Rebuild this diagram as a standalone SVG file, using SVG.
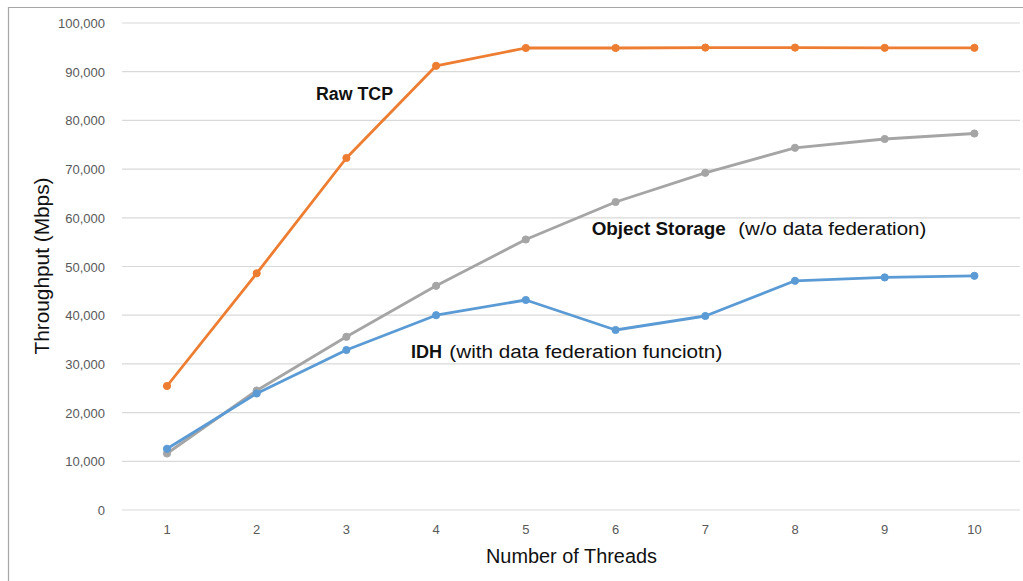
<svg xmlns="http://www.w3.org/2000/svg" width="1023" height="581" viewBox="0 0 1023 581">
  <style>
    .grid { stroke: #D9D9D9; stroke-width: 1.2; }
    .tick { font-family: "Liberation Sans", Arial, sans-serif; font-size: 13px; fill: #595959; }
    .ylab { text-anchor: end; }
    .xlab { text-anchor: middle; }
    .title { font-family: "Liberation Sans", Arial, sans-serif; font-size: 20px; fill: #111; }
    .note { font-family: "Liberation Sans", Arial, sans-serif; font-size: 18px; fill: #111; }
    .bold { font-weight: bold; }
    .series { fill: none; stroke-width: 2.8; stroke-linejoin: round; stroke-linecap: round; }
  </style>

  <rect x="0" y="0" width="1023" height="581" fill="#FFFFFF"/>
  <!-- chart frame -->
  <path d="M8.5 581 V7.5 H1023" fill="none" stroke="#A6A6A6" stroke-width="1.2"/>

  <!-- horizontal gridlines, 0 to 100,000 -->
  <g id="gridlines">
    <line class="grid" x1="122" y1="510" x2="1020" y2="510"/>
    <line class="grid" x1="122" y1="461.3" x2="1020" y2="461.3"/>
    <line class="grid" x1="122" y1="412.6" x2="1020" y2="412.6"/>
    <line class="grid" x1="122" y1="363.9" x2="1020" y2="363.9"/>
    <line class="grid" x1="122" y1="315.2" x2="1020" y2="315.2"/>
    <line class="grid" x1="122" y1="266.5" x2="1020" y2="266.5"/>
    <line class="grid" x1="122" y1="217.8" x2="1020" y2="217.8"/>
    <line class="grid" x1="122" y1="169.1" x2="1020" y2="169.1"/>
    <line class="grid" x1="122" y1="120.4" x2="1020" y2="120.4"/>
    <line class="grid" x1="122" y1="71.7" x2="1020" y2="71.7"/>
    <line class="grid" x1="122" y1="23" x2="1020" y2="23"/>
  </g>

  <!-- y-axis tick labels -->
  <g id="y-axis">
    <text class="tick ylab" x="105" y="515">0</text>
    <text class="tick ylab" x="105" y="466.3">10,000</text>
    <text class="tick ylab" x="105" y="417.6">20,000</text>
    <text class="tick ylab" x="105" y="368.9">30,000</text>
    <text class="tick ylab" x="105" y="320.2">40,000</text>
    <text class="tick ylab" x="105" y="271.5">50,000</text>
    <text class="tick ylab" x="105" y="222.8">60,000</text>
    <text class="tick ylab" x="105" y="174.1">70,000</text>
    <text class="tick ylab" x="105" y="125.4">80,000</text>
    <text class="tick ylab" x="105" y="76.7">90,000</text>
    <text class="tick ylab" x="105" y="28">100,000</text>
    <text class="title" x="0" y="0" text-anchor="middle" transform="translate(49 266) rotate(-90)" textLength="177" lengthAdjust="spacingAndGlyphs">Throughput (Mbps)</text>
  </g>

  <!-- x-axis tick labels -->
  <g id="x-axis">
    <text class="tick xlab" x="167" y="534">1</text>
    <text class="tick xlab" x="256.7" y="534">2</text>
    <text class="tick xlab" x="346.4" y="534">3</text>
    <text class="tick xlab" x="436.1" y="534">4</text>
    <text class="tick xlab" x="525.8" y="534">5</text>
    <text class="tick xlab" x="615.6" y="534">6</text>
    <text class="tick xlab" x="705.3" y="534">7</text>
    <text class="tick xlab" x="795" y="534">8</text>
    <text class="tick xlab" x="884.7" y="534">9</text>
    <text class="tick xlab" x="974.4" y="534">10</text>
    <text class="title" x="486" y="563.3" textLength="171" lengthAdjust="spacingAndGlyphs">Number of Threads</text>
  </g>

  <!-- data series -->
  <g id="connectors">
    <g id="series-object-storage" stroke="#A5A5A5" fill="#A5A5A5">
      <polyline class="series" points="167,453.5 256.7,390.5 346.4,336.8 436.1,285.8 525.8,239.5 615.6,202 705.3,172.8 795,147.8 884.7,139 974.4,133.5"/>
      <circle cx="167" cy="453.5" r="3.6"/>
      <circle cx="256.7" cy="390.5" r="3.6"/>
      <circle cx="346.4" cy="336.8" r="3.6"/>
      <circle cx="436.1" cy="285.8" r="3.6"/>
      <circle cx="525.8" cy="239.5" r="3.6"/>
      <circle cx="615.6" cy="202" r="3.6"/>
      <circle cx="705.3" cy="172.8" r="3.6"/>
      <circle cx="795" cy="147.8" r="3.6"/>
      <circle cx="884.7" cy="139" r="3.6"/>
      <circle cx="974.4" cy="133.5" r="3.6"/>
    </g>
    <g id="series-idh" stroke="#5B9BD5" fill="#5B9BD5">
      <polyline class="series" points="167,448.8 256.7,393.5 346.4,350 436.1,315.2 525.8,300 615.6,330 705.3,316 795,280.8 884.7,277.4 974.4,275.8"/>
      <circle cx="167" cy="448.8" r="3.6"/>
      <circle cx="256.7" cy="393.5" r="3.6"/>
      <circle cx="346.4" cy="350" r="3.6"/>
      <circle cx="436.1" cy="315.2" r="3.6"/>
      <circle cx="525.8" cy="300" r="3.6"/>
      <circle cx="615.6" cy="330" r="3.6"/>
      <circle cx="705.3" cy="316" r="3.6"/>
      <circle cx="795" cy="280.8" r="3.6"/>
      <circle cx="884.7" cy="277.4" r="3.6"/>
      <circle cx="974.4" cy="275.8" r="3.6"/>
    </g>
    <g id="series-raw-tcp" stroke="#ED7D31" fill="#ED7D31">
      <polyline class="series" points="167,386 256.7,273.3 346.4,158 436.1,65.8 525.8,48 615.6,48 705.3,47.6 795,47.6 884.7,47.8 974.4,47.8"/>
      <circle cx="167" cy="386" r="3.6"/>
      <circle cx="256.7" cy="273.3" r="3.6"/>
      <circle cx="346.4" cy="158" r="3.6"/>
      <circle cx="436.1" cy="65.8" r="3.6"/>
      <circle cx="525.8" cy="48" r="3.6"/>
      <circle cx="615.6" cy="48" r="3.6"/>
      <circle cx="705.3" cy="47.6" r="3.6"/>
      <circle cx="795" cy="47.6" r="3.6"/>
      <circle cx="884.7" cy="47.8" r="3.6"/>
      <circle cx="974.4" cy="47.8" r="3.6"/>
    </g>
  </g>

  <!-- series labels -->
  <g id="label-raw-tcp">
    <text class="note bold" x="316" y="100" textLength="77" lengthAdjust="spacingAndGlyphs">Raw TCP</text>
  </g>
  <g id="label-object-storage">
    <text class="note bold" x="591.7" y="235" textLength="134" lengthAdjust="spacingAndGlyphs">Object Storage</text>
    <text class="note" x="738.3" y="235" textLength="188" lengthAdjust="spacingAndGlyphs">(w/o data federation)</text>
  </g>
  <g id="label-idh">
    <text class="note bold" x="411" y="358.3" textLength="31" lengthAdjust="spacingAndGlyphs">IDH</text>
    <text class="note" x="449.3" y="358.3" textLength="273" lengthAdjust="spacingAndGlyphs">(with data federation funciotn)</text>
  </g>
</svg>
